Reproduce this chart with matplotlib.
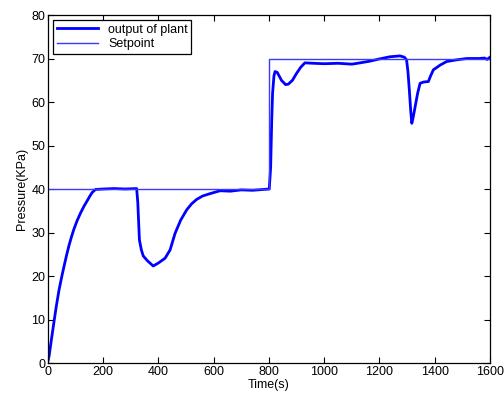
import matplotlib
matplotlib.use('Agg')
import matplotlib.pyplot as plt
import numpy as np

plt.rcParams['font.family'] = ['Liberation Sans', 'DejaVu Sans']

# output of plant
t_out = [0, 4, 12, 22, 30, 40, 50, 58, 67, 76, 85, 94, 106, 118, 130, 142, 151, 160, 172, 200, 240, 280, 321,
         325, 331, 338, 345, 360, 381, 400, 424, 442, 460, 480, 502, 520, 538, 560,
         590, 623, 660, 700, 740, 780, 801,
         806, 810, 813, 818, 822, 830, 845, 860, 870, 885, 900, 915, 930, 960, 1000,
         1050, 1100, 1130, 1166, 1200, 1238, 1274, 1290, 1298, 1303, 1308, 1313, 1317,
         1322, 1329, 1338, 1347, 1360, 1377, 1385, 1395, 1420, 1443, 1480, 1516, 1560,
         1580, 1590, 1600]
p_out = [0.5, 1.6, 5.2, 9.6, 13.0, 16.8, 19.9, 22.2, 24.7, 27.0, 29.0, 30.8, 32.8, 34.5, 36.0, 37.3, 38.3, 39.2, 39.9, 40.0, 40.1, 40.0, 40.1,
         37.0, 28.3, 26.0, 24.6, 23.5, 22.3, 23.0, 24.1, 26.0, 29.8, 32.8, 35.2, 36.6, 37.6, 38.4,
         39.0, 39.6, 39.5, 39.8, 39.7, 39.9, 40.0,
         45.0, 56.0, 62.0, 66.0, 67.0, 66.8, 65.0, 64.0, 64.1, 65.0, 66.6, 68.0, 69.0, 68.9, 68.8,
         68.9, 68.7, 69.0, 69.4, 69.9, 70.4, 70.6, 70.3, 69.7, 67.0, 62.8, 58.0, 55.1,
         56.5, 58.9, 62.0, 64.3, 64.6, 64.7, 66.0, 67.4, 68.5, 69.3, 69.7, 70.0, 70.0,
         70.1, 69.8, 70.3]

# setpoint
t_sp = [0, 800, 800, 1600]
p_sp = [40, 40, 70, 70]

fig = plt.figure(figsize=(5.04, 3.99), dpi=100)
ax = fig.add_axes([0.0952, 0.0902, 0.8770, 0.8722])

ax.plot(t_out, p_out, color='#0000ff', linewidth=2.0, label='output of plant')
ax.plot(t_sp, p_sp, color='#3a3aff', linewidth=1.0, label='Setpoint')

ax.set_xlim(0, 1600)
ax.set_ylim(0, 80)
ax.set_xticks(np.arange(0, 1601, 200))
ax.set_yticks(np.arange(0, 81, 10))
ax.tick_params(direction='in', top=True, right=True, length=4, width=0.8, labelsize=9, pad=2)
for s in ax.spines.values():
    s.set_linewidth(0.9)

ax.set_xlabel('Time(s)', fontsize=9, labelpad=1)
ax.set_ylabel('Pressure(KPa)', fontsize=9, labelpad=2)

leg = ax.legend(loc='upper left', fontsize=9, fancybox=False, framealpha=1,
                edgecolor='black', borderaxespad=0.4, handlelength=3.3,
                borderpad=0.3, labelspacing=0.2)
leg.get_frame().set_linewidth(0.9)

fig.savefig('out.png', dpi=100)
